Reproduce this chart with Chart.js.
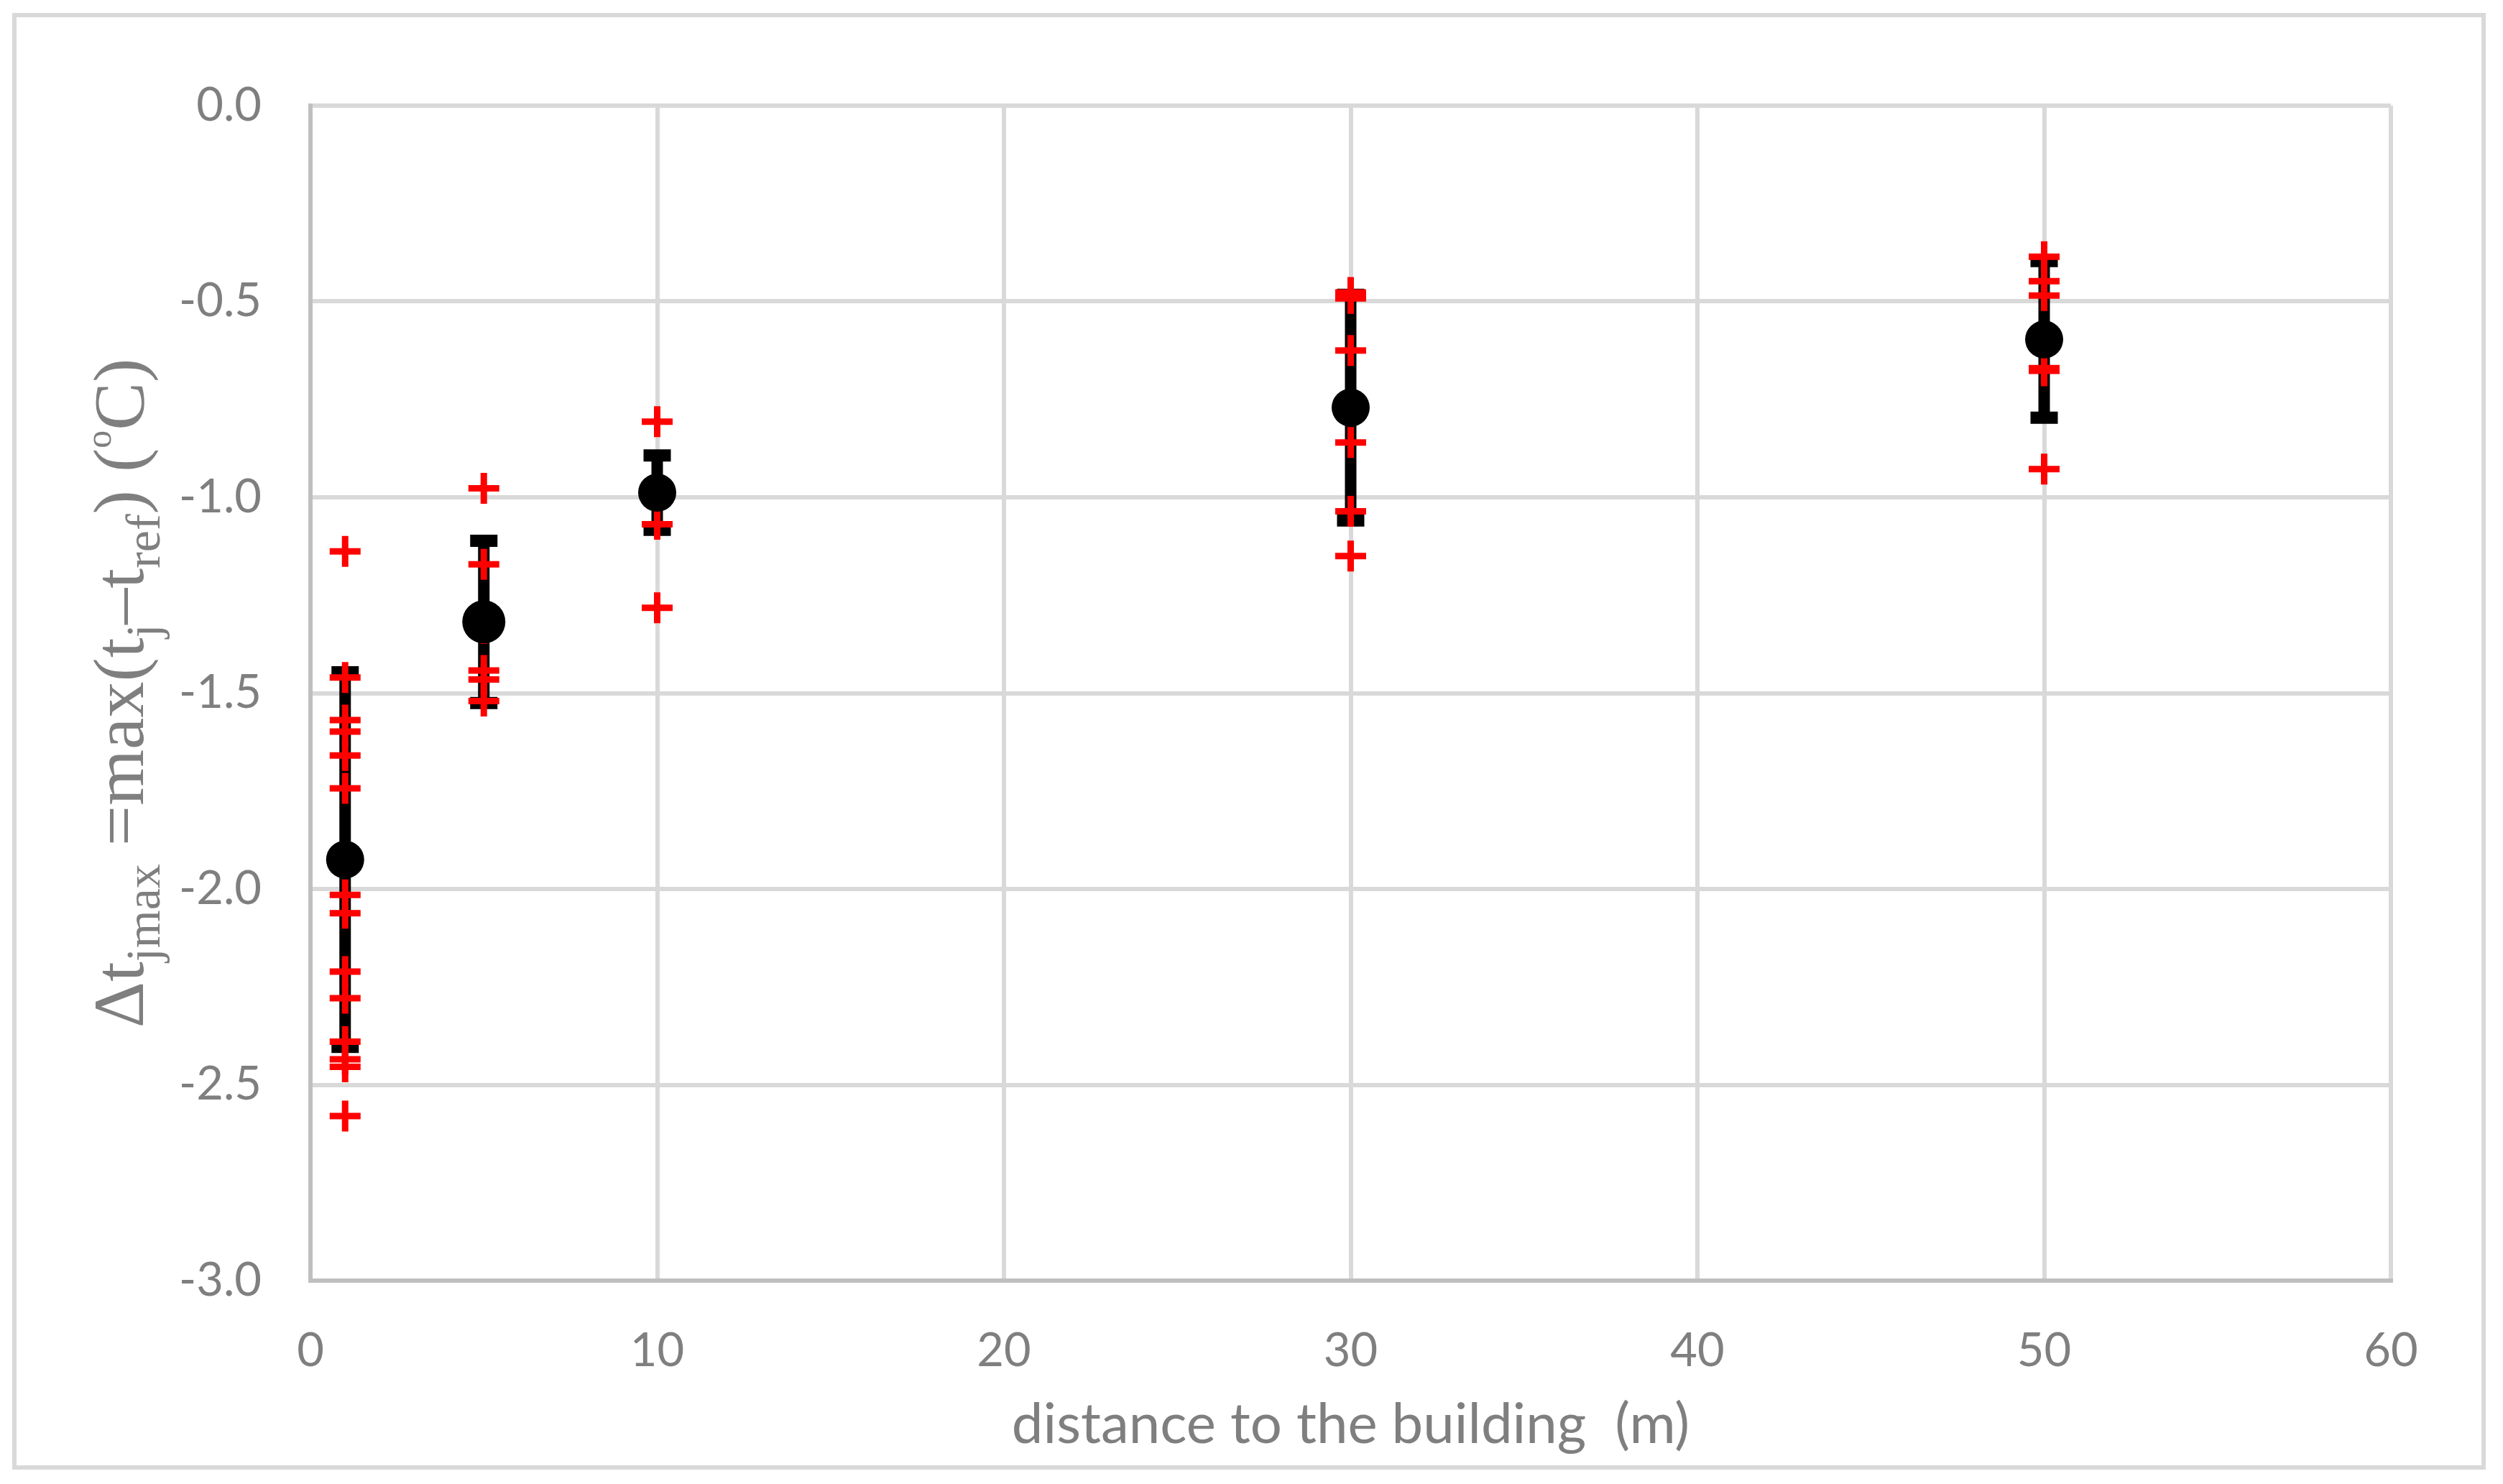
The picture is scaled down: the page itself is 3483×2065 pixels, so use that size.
<!DOCTYPE html>
<html lang="en">
<head>
<meta charset="utf-8">
<title>Temperature difference vs distance to the building</title>
<script src="https://cdn.jsdelivr.net/npm/chart.js"></script>
<style>
  html, body { margin: 0; padding: 0; background: #fff; }
  #chart { display: block; }
</style>
</head>
<body>
<canvas id="chart" width="3483" height="2065"></canvas>
<script>
  // distances of the measuring groups (m)
  const distances = [1, 5, 10, 30, 50];

  // single values per distance (°C)
  const at1m = [-1.138, -1.460, -1.569, -1.598, -1.659, -1.743, -2.015, -2.062, -2.211, -2.279, -2.390, -2.435, -2.454, -2.580];
  const at5m = [-0.977, -1.171, -1.335, -1.442, -1.465, -1.520];
  const at10m = [-0.807, -1.069, -1.282];
  const at30m = [-0.477, -0.492, -0.625, -0.860, -1.036, -1.150];
  const at50m = [-0.386, -0.448, -0.485, -0.670, -0.677, -0.928];

  // mean and error bar per distance
  const means = [-1.925, -1.318, -0.988, -0.771, -0.597];
  const errors = [0.478, 0.207, 0.095, 0.288, 0.200];

  // axis ticks
  const xTicks = [0, 10, 20, 30, 40, 50, 60];
  const yTicks = [0.0, -0.5, -1.0, -1.5, -2.0, -2.5, -3.0];

  const grey = '#7f7f7f';
  const xTitle = 'distance to the building  (m)';

  // size the x title so it spans roughly the same width as the original
  const m = document.createElement('canvas').getContext('2d');
  m.font = '100px Lato';
  const xTitleSize = Math.round(100 * 946 / m.measureText(xTitle).width);

  const singles = [at1m, at5m, at10m, at30m, at50m];
  let crossPoints = [];
  singles.forEach((vals, i) => {
    vals.forEach(v => crossPoints.push({x: distances[i], y: v}));
  });

  let meanPoints = distances.map((d, i) => ({x: d, y: means[i]}));

  // each error bar: top, bottom, then a gap
  let errPoints = [];
  distances.forEach((d, i) => {
    errPoints.push({x: d, y: means[i] + errors[i]});
    errPoints.push({x: d, y: means[i] - errors[i]});
    errPoints.push({x: d, y: null});
  });

  // y title with subscripts, drawn piece by piece
  const yTitleParts = [
    {t: 'Δt', k: 'main'}, {t: 'jmax', k: 'sub'}, {t: ' =max(t', k: 'main'},
    {t: 'j', k: 'sub'}, {t: '–t', k: 'main'}, {t: 'ref', k: 'sub'},
    {t: ') (', k: 'main'}, {t: 'o', k: 'sup'}, {t: 'C)', k: 'main'}
  ];
  const yTitleFonts = {
    main: '100px "Liberation Serif"',
    sub: '68px "Liberation Serif"',
    sup: '50px "Liberation Serif"'
  };
  const yTitleShift = {main: 0, sub: 23, sup: -45};

  const frameAndTitle = {
    id: 'frameAndTitle',
    beforeDraw(chart) {
      const ctx = chart.ctx;
      ctx.save();
      ctx.fillStyle = '#fff';
      ctx.fillRect(0, 0, chart.width, chart.height);
      ctx.strokeStyle = '#d9d9d9';
      ctx.lineWidth = 6;
      ctx.strokeRect(20, 21, 3436, 2021);
      ctx.restore();
    },
    afterDraw(chart) {
      const ctx = chart.ctx;
      ctx.save();
      ctx.fillStyle = grey;
      ctx.textBaseline = 'alphabetic';
      let total = 0;
      yTitleParts.forEach(p => {
        ctx.font = yTitleFonts[p.k];
        total += ctx.measureText(p.t).width;
      });
      const centerY = (chart.chartArea.top + chart.chartArea.bottom) / 2;
      ctx.translate(199, 0);
      ctx.rotate(-Math.PI / 2);
      let x = -(centerY + total / 2);
      yTitleParts.forEach(p => {
        ctx.font = yTitleFonts[p.k];
        ctx.fillText(p.t, x, yTitleShift[p.k]);
        x += ctx.measureText(p.t).width;
      });
      ctx.restore();
    }
  };

  new Chart(document.getElementById('chart'), {
    type: 'scatter',
    data: {
      datasets: [
        {
          label: 'mean',
          data: meanPoints,
          pointStyle: 'circle',
          pointRadius: [26.5, 30, 26.5, 26.5, 26.5],
          pointBackgroundColor: '#000',
          pointBorderWidth: 0
        },
        {
          label: 'single values',
          data: crossPoints,
          pointStyle: 'cross',
          pointRadius: 21.5,
          pointBorderColor: '#ff0000',
          pointBorderWidth: 9
        },
        {
          label: 'error',
          data: errPoints,
          showLine: true,
          spanGaps: false,
          borderColor: '#000',
          borderWidth: 16,
          borderCapStyle: 'butt',
          pointStyle: 'line',
          pointRadius: 19,
          pointBorderColor: '#000',
          pointBorderWidth: 17
        }
      ]
    },
    options: {
      responsive: false,
      animation: false,
      devicePixelRatio: 1,
      layout: {
        padding: {left: 0, top: 147, right: 156, bottom: 0}
      },
      plugins: {
        legend: {display: false},
        tooltip: {enabled: false}
      },
      scales: {
        x: {
          type: 'linear',
          min: 0,
          max: 60,
          afterBuildTicks: s => { s.ticks = xTicks.map(v => ({value: v})); },
          afterFit: s => { s.height = 283; },
          grid: {color: '#d9d9d9', lineWidth: 6, drawTicks: false},
          border: {color: '#bfbfbf', width: 6},
          ticks: {
            color: grey,
            padding: 59,
            font: {family: 'Lato', size: 65}
          },
          title: {
            display: true,
            text: xTitle,
            color: grey,
            font: {family: 'Lato', size: xTitleSize},
            padding: {top: 0, bottom: 35}
          }
        },
        y: {
          type: 'linear',
          min: -3,
          max: 0,
          afterBuildTicks: s => { s.ticks = yTicks.map(v => ({value: v})); },
          afterFit: s => { s.width = 432; },
          grid: {color: '#d9d9d9', lineWidth: 6, drawTicks: false},
          border: {color: '#bfbfbf', width: 6},
          ticks: {
            color: grey,
            padding: 68,
            font: {family: 'Lato', size: 65},
            callback: v => v.toFixed(1)
          }
        }
      }
    },
    plugins: [frameAndTitle]
  });
</script>
</body>
</html>
